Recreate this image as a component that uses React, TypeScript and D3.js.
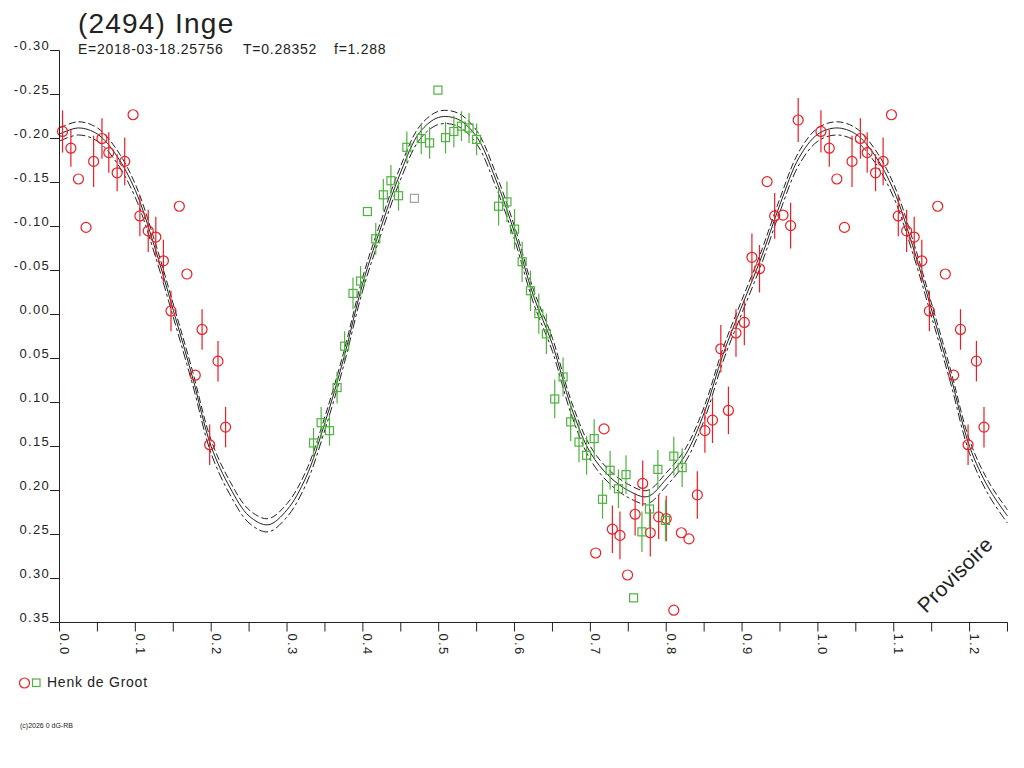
import * as d3 from "d3";

// lightcurve of (2494) Inge
const redPhase = [
  0.004, 0.015, 0.025, 0.035, 0.045, 0.056, 0.065, 0.076, 0.086, 0.097, 0.106,
  0.117, 0.127, 0.137, 0.147, 0.158, 0.168, 0.179, 0.188, 0.198, 0.209, 0.219,
  0.707, 0.718, 0.729, 0.739, 0.749, 0.759, 0.769, 0.779, 0.79, 0.8, 0.81,
  0.82, 0.83, 0.841, 0.851, 0.861, 0.872, 0.882, 0.892, 0.903, 0.913, 0.923,
  0.933, 0.943, 0.954, 0.964, 0.974,
];
const redMag = [
  -0.208, -0.189, -0.154, -0.099, -0.174, -0.2, -0.184, -0.161, -0.174, -0.227,
  -0.112, -0.095, -0.088, -0.061, -0.004, -0.123, -0.046, 0.069, 0.017, 0.148,
  0.053, 0.128, 0.271, 0.13, 0.244, 0.251, 0.296, 0.227, 0.192, 0.248, 0.23,
  0.232, 0.336, 0.248, 0.255, 0.205, 0.132, 0.12, 0.039, 0.109, 0.021, 0.009,
  -0.065, -0.052, -0.151, -0.112, -0.113, -0.101, -0.221,
];
const redErr = [
  0.024, 0.021, 0, 0, 0.029, 0.023, 0.023, 0.021, 0.027, 0, 0.023, 0.024, 0.023,
  0.024, 0.023, 0, 0, 0, 0.023, 0.023, 0.023, 0.023, 0, 0, 0.027, 0.027, 0,
  0.024, 0.026, 0.027, 0.025, 0.026, 0, 0, 0, 0.027, 0.025, 0.026, 0.027, 0.027,
  0.027, 0.026, 0.027, 0.027, 0, 0.026, 0, 0.026, 0.025,
];

const greenPhase = [
  0.335, 0.345, 0.356, 0.366, 0.376, 0.387, 0.397, 0.406, 0.417, 0.427, 0.437,
  0.447, 0.458, 0.477, 0.488, 0.499, 0.509, 0.52, 0.53, 0.54, 0.55, 0.579, 0.59,
  0.6, 0.61, 0.621, 0.632, 0.642, 0.653, 0.664, 0.674, 0.685, 0.695, 0.705,
  0.716, 0.726, 0.737, 0.747, 0.757, 0.768, 0.778, 0.789, 0.799, 0.81, 0.821,
];
const greenMag = [
  0.146, 0.123, 0.132, 0.083, 0.036, -0.024, -0.038, -0.117, -0.086, -0.136,
  -0.152, -0.135, -0.19, -0.2, -0.195, -0.255, -0.201, -0.208, -0.214, -0.212,
  -0.199, -0.123, -0.128, -0.097, -0.06, -0.027, -0.001, 0.022, 0.096, 0.071,
  0.122, 0.145, 0.16, 0.141, 0.21, 0.177, 0.198, 0.182, 0.322, 0.247, 0.221,
  0.176, 0.234, 0.161, 0.174,
];
const greenErr = [
  0.017, 0.018, 0.017, 0.018, 0.017, 0.018, 0.017, 0, 0.018, 0.018, 0.018,
  0.017, 0.018, 0.018, 0.018, 0, 0.018, 0.018, 0.017, 0.017, 0.018, 0.022,
  0.023, 0.023, 0.023, 0.023, 0.023, 0.023, 0.022, 0.022, 0.022, 0.023, 0.022,
  0.022, 0.022, 0.022, 0.022, 0.022, 0, 0.023, 0.022, 0.022, 0.023, 0.022, 0.022,
];
// one rejected point shown in grey
const greyPhase = [0.468];
const greyMag = [-0.132];

// fitted curve, read at 0.025 phase steps
const fitPhase = d3.range(0, 1.0001, 0.025);
const fitMag = [
  -0.205, -0.212, -0.205, -0.181, -0.141, -0.078, -0.005, 0.07, 0.15, 0.197,
  0.229, 0.239, 0.222, 0.185, 0.123, 0.049, -0.036, -0.102, -0.162, -0.207,
  -0.224, -0.222, -0.202, -0.154, -0.093, -0.021, 0.034, 0.106, 0.157, 0.184,
  0.2, 0.207, 0.187, 0.16, 0.112, 0.045, -0.01, -0.064, -0.125, -0.178, -0.205,
];

const xTicks = [0, 0.1, 0.2, 0.3, 0.4, 0.5, 0.6, 0.7, 0.8, 0.9, 1.0, 1.1, 1.2];
const xTickLabels = ["0.0", "0.1", "0.2", "0.3", "0.4", "0.5", "0.6", "0.7", "0.8", "0.9", "1.0", "1.1", "1.2"];
const yTicks = [-0.3, -0.25, -0.2, -0.15, -0.1, -0.05, 0, 0.05, 0.1, 0.15, 0.2, 0.25, 0.3, 0.35];
const yTickLabels = ["-0.30", "-0.25", "-0.20", "-0.15", "-0.10", "-0.05", "0.00", "0.05", "0.10", "0.15", "0.20", "0.25", "0.30", "0.35"];

const INK = "#222";
const RED = "#ee1c24";
const GREEN = "#4db33d";
const FONT = "'Liberation Sans', Arial, sans-serif";

export default function App() {
  const x = d3.scaleLinear().domain([0, 1.25]).range([59.5, 1007.5]);
  const y = d3.scaleLinear().domain([-0.3, 0.35]).range([50.5, 622.5]);

  // the plot wraps the first quarter of phase after 1.0
  const fit: [number, number][] = fitPhase.map((p, i) => [p, fitMag[i]]);
  const fitAll = fit.concat(fit.filter((d) => d[0] > 0 && d[0] <= 0.25).map((d) => [d[0] + 1, d[1]] as [number, number]));

  const line = (off: number) =>
    d3
      .line<[number, number]>()
      .x((d) => x(d[0]))
      .y((d) => y(d[1] + off))
      .curve(d3.curveCatmullRom)(fitAll) || "";

  const reds = redPhase.map((p, i) => ({ p, m: redMag[i], e: redErr[i] }));
  const redAll = reds.concat(reds.filter((d) => d.p < 0.25).map((d) => ({ ...d, p: d.p + 1 })));
  const greens = greenPhase.map((p, i) => ({ p, m: greenMag[i], e: greenErr[i] }));

  const minor = d3.range(0, 1.2501, 0.05);

  return (
    <svg width={1024} height={768} style={{ position: "absolute", left: 0, top: 0, background: "#fff" }} fontFamily={FONT}>
      {/* title */}
      <text x={78} y={33} fontSize={28} fill={INK} letterSpacing={1.2}>(2494) Inge</text>
      <text x={78} y={54} fontSize={14} fill={INK} letterSpacing={0.75}>E=2018-03-18.25756</text>
      <text x={243} y={54} fontSize={14} fill={INK} letterSpacing={0.75}>T=0.28352</text>
      <text x={334} y={54} fontSize={14} fill={INK} letterSpacing={0.75}>f=1.288</text>

      {/* fit curve and envelope */}
      <g fill="none" stroke={INK} strokeWidth={1}>
        <path d={line(-0.007)} strokeDasharray="7,3" />
        <path d={line(0)} />
        <path d={line(0.008)} strokeDasharray="9,3,3,3" />
      </g>

      {/* red observations */}
      <g stroke={RED} strokeWidth={1.2} fill="none">
        {redAll.map((d, i) => (
          <g key={i}>
            {d.e > 0 && <line x1={x(d.p)} x2={x(d.p)} y1={y(d.m - d.e)} y2={y(d.m + d.e)} />}
            <circle cx={x(d.p)} cy={y(d.m)} r={5} />
          </g>
        ))}
      </g>

      {/* green observations */}
      <g stroke={GREEN} strokeWidth={1.2} fill="none">
        {greens.map((d, i) => (
          <g key={i}>
            {d.e > 0 && <line x1={x(d.p)} x2={x(d.p)} y1={y(d.m - d.e)} y2={y(d.m + d.e)} />}
            <rect x={x(d.p) - 4} y={y(d.m) - 4} width={8} height={8} />
          </g>
        ))}
        {greyPhase.map((p, i) => (
          <rect key={i} x={x(p) - 4} y={y(greyMag[i]) - 4} width={8} height={8} stroke="#a0a0a0" />
        ))}
      </g>

      {/* axes */}
      <g stroke={INK} strokeWidth={1}>
        <line x1={59.5} x2={59.5} y1={y(-0.3)} y2={y(0.35)} />
        <line x1={59.5} x2={1007.5} y1={y(0.35)} y2={y(0.35)} />
        {yTicks.map((t) => (
          <line key={t} x1={50} x2={59.5} y1={y(t)} y2={y(t)} />
        ))}
        {minor.map((t) => (
          <line key={t} x1={x(t)} x2={x(t)} y1={y(0.35)} y2={y(0.35) + 9} />
        ))}
      </g>
      <g fill={INK} fontSize={13} letterSpacing={1.3}>
        {yTicks.map((t, i) => (
          <text key={t} x={50} y={y(t) - 1} textAnchor="end">{yTickLabels[i]}</text>
        ))}
        {xTicks.map((t, i) => (
          <text key={t} transform={`translate(${x(t) + 0.5},${y(0.35) + 11}) rotate(90)`}>{xTickLabels[i]}</text>
        ))}
      </g>

      <text transform="translate(926,614) rotate(-45)" fontSize={21} fill={INK} letterSpacing={0.3}>Provisoire</text>

      {/* legend */}
      <circle cx={24.5} cy={683} r={5} fill="none" stroke={RED} strokeWidth={1.2} />
      <rect x={32.5} y={679} width={7.5} height={7.5} fill="none" stroke={GREEN} strokeWidth={1.2} />
      <text x={47} y={687} fontSize={14} fill={INK} letterSpacing={0.75}>Henk de Groot</text>

      <text x={20} y={728} fontSize={7} fill={INK}>(c)2026 0 dG-RB</text>
    </svg>
  );
}
